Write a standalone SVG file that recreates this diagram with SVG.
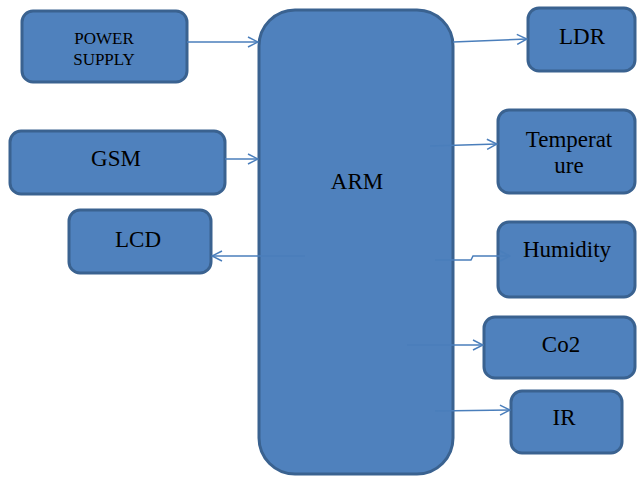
<svg xmlns="http://www.w3.org/2000/svg" width="637" height="477" viewBox="0 0 637 477">
<defs>
<style>
.box{fill:#4f81bd;stroke:#3a6290;stroke-width:3}
.t{font-family:"Liberation Serif","Times New Roman",serif;font-size:23px;fill:#000;text-anchor:middle}
.s{font-size:17px}
.c{fill:none;stroke:#4a7ebb;stroke-width:1.5;marker-end:url(#ah)}
</style>
<marker id="ah" viewBox="0 0 12 12" refX="11" refY="6" markerWidth="12" markerHeight="12" markerUnits="userSpaceOnUse" orient="auto">
<path d="M1,1 L11,6 L1,11" fill="none" stroke="#4a7ebb" stroke-width="1.5"/>
</marker>
</defs>
<rect width="637" height="477" fill="#fff"/>
<g id="arm"><rect class="box" x="259" y="10" width="194" height="464" rx="36"/><text class="t" x="357" y="189">ARM</text></g>
<g id="power"><rect class="box" x="22" y="11" width="165" height="71" rx="11"/><text class="t s" x="104" y="44">POWER</text><text class="t s" x="104" y="65">SUPPLY</text></g>
<g id="gsm"><rect class="box" x="10" y="131" width="215" height="63" rx="11"/><text class="t" x="116" y="166">GSM</text></g>
<g id="lcd"><rect class="box" x="69" y="210" width="142" height="63" rx="11"/><text class="t" x="138" y="247">LCD</text></g>
<g id="ldr"><rect class="box" x="528" y="8" width="107" height="63" rx="11"/><text class="t" x="582" y="44">LDR</text></g>
<g id="temp"><rect class="box" x="498" y="110" width="137" height="83" rx="11"/><text class="t" x="569" y="147">Temperat</text><text class="t" x="569" y="173">ure</text></g>
<g id="humidity"><rect class="box" x="498" y="222" width="137" height="75" rx="11"/><text class="t" x="567" y="257">Humidity</text></g>
<g id="co2"><rect class="box" x="484" y="317" width="151" height="61" rx="11"/><text class="t" x="561" y="352">Co2</text></g>
<g id="ir"><rect class="box" x="511" y="391" width="111" height="62" rx="11"/><text class="t" x="564" y="425">IR</text></g>
<g id="connectors">
<path class="c" d="M187,42 H258"/>
<path class="c" d="M225,159 H258"/>
<path class="c" d="M305,256 H212"/>
<path class="c" d="M453,42 L527,39"/>
<path class="c" d="M430,146 L497,144"/>
<path class="c" d="M435,260 H471 L473,256 H510"/>
<path class="c" d="M407,345 H483"/>
<path class="c" d="M435,411 L510,410"/>
</g>
</svg>
